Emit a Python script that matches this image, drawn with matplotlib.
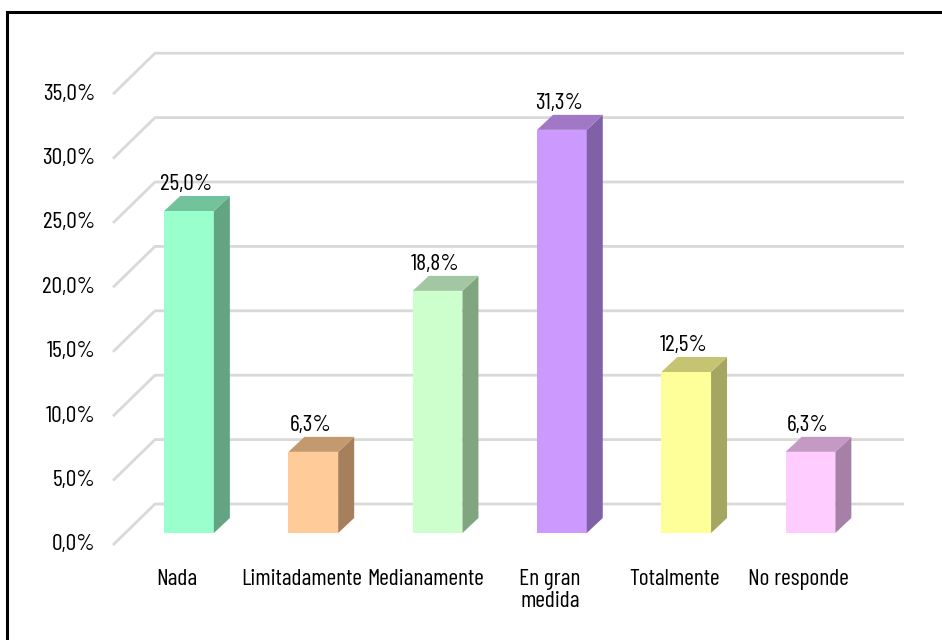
import matplotlib.pyplot as plt
from matplotlib.patches import Polygon, Rectangle

plt.rcParams['font.family'] = ['Barlow Condensed', 'Roboto Condensed', 'DejaVu Sans']

# datos
categorias = ['Nada', 'Limitadamente', 'Medianamente', 'En gran\nmedida', 'Totalmente', 'No responde']
valores = [25.0, 6.3, 18.8, 31.3, 12.5, 6.3]
etiquetas = ['25,0%', '6,3%', '18,8%', '31,3%', '12,5%', '6,3%']
ticks = [0, 5, 10, 15, 20, 25, 30, 35]
tick_labels = ['0,0%', '5,0%', '10,0%', '15,0%', '20,0%', '25,0%', '30,0%', '35,0%']
color_frente = ['#99FFCC', '#FFCC99', '#CCFFCC', '#CC99FF', '#FFFF99', '#FFCCFF']
color_lado = ['#63A583', '#A6805C', '#80A680', '#8060A6', '#A6A663', '#A680A6']
color_techo = ['#72C39B', '#C29A6E', '#A3C7A3', '#A078C6', '#C4C472', '#C49AC4']

W, H = 942, 640
fig = plt.figure(figsize=(W / 100, H / 100), dpi=100)
# ejes: x = indice de categoria, y = porcentaje (plano frontal de las barras)
px_cat = 124.3
px_pct = 12.88
ax = fig.add_axes([(189 - 0.5 * px_cat) / W, (H - 533) / H, 6 * px_cat / W, 35 * px_pct / H])
ax.set_xlim(-0.5, 5.5)
ax.set_ylim(0, 35)
ax.axis('off')

# geometria de profundidad (en unidades de datos)
x_frente = (113 - 189) / px_cat          # borde frontal de las lineas
x_fondo = (155 - 189) / px_cat           # pared del fondo
x_fin = (904 - 189) / px_cat
y_frente = -12 / px_pct
y_fondo = 29 / px_pct
x_etq = (95 - 189) / px_cat
dx, dy = 16 / px_cat, 15 / px_pct        # profundidad de las barras
ancho = 0.4
fs = 17

# lineas de division
for t, lab in zip(ticks, tick_labels):
    ax.plot([x_frente, x_fondo, x_fin], [t + y_frente, t + y_fondo, t + y_fondo], color='#D9D9D9',
            lw=2, clip_on=False, zorder=1, solid_capstyle='butt')
    ax.text(x_etq, t + y_frente, lab, ha='right', va='center', fontsize=fs,
            color='#000000', clip_on=False)

# barras 3D
for i, v in enumerate(valores):
    x0, x1 = i - ancho / 2, i + ancho / 2
    ax.bar(i, v, width=ancho, color=color_frente[i], zorder=3)
    ax.add_patch(Polygon([(x1, 0), (x1 + dx, dy), (x1 + dx, v + dy), (x1, v)],
                         closed=True, fc=color_lado[i], ec='none', zorder=3, clip_on=False))
    ax.add_patch(Polygon([(x0, v), (x1, v), (x1 + dx, v + dy), (x0 + dx, v + dy)],
                         closed=True, fc=color_techo[i], ec='none', zorder=3, clip_on=False))
    ax.text(i - 0.02, v + dy + 0.05, etiquetas[i], ha='center', va='bottom', fontsize=fs,
            color='#000000', clip_on=False)
    ax.text(i - 12 / px_cat, -36 / px_pct, categorias[i], ha='center', va='top', fontsize=fs,
            color='#000000', linespacing=1.05, clip_on=False)

# marco
fig.patches.append(Rectangle((7 / W, -0.1), 1.2, (H - 12) / H + 0.1, transform=fig.transFigure,
                             fill=False, ec='#000000', lw=2.2))

fig.savefig('out.png', dpi=100, facecolor='white')
